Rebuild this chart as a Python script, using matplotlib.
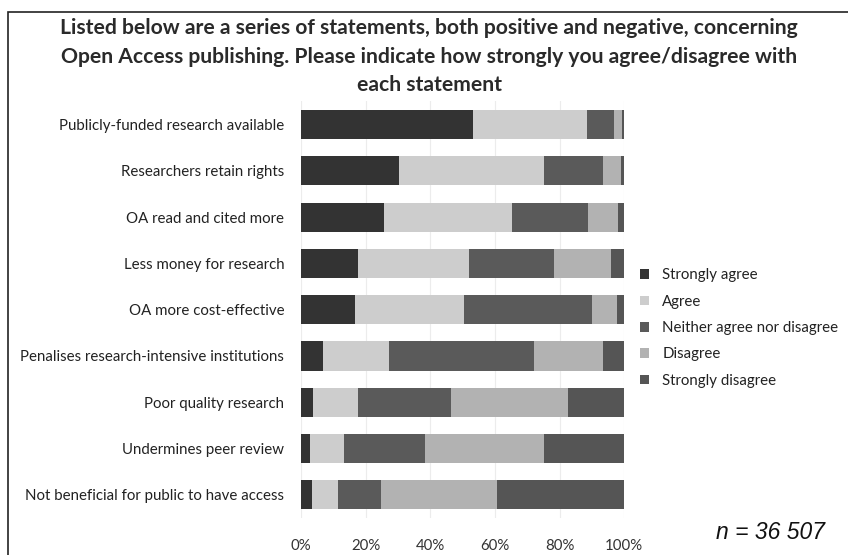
import numpy as np
import matplotlib.pyplot as plt
from matplotlib.patches import Rectangle

# statements, top to bottom
statements = [
    'Publicly-funded research available',
    'Researchers retain rights',
    'OA read and cited more',
    'Less money for research',
    'OA more cost-effective',
    'Penalises research-intensive institutions',
    'Poor quality research',
    'Undermines peer review',
    'Not beneficial for public to have access',
]
responses = ['Strongly agree', 'Agree', 'Neither agree nor disagree',
             'Disagree', 'Strongly disagree']

# percentages per response, one value per statement
strongly_agree = [53.3, 30.3, 25.8, 17.5, 16.8, 6.9, 3.8, 2.8, 3.4]
agree = [35.3, 44.9, 39.5, 34.6, 33.5, 20.3, 13.8, 10.6, 7.9]
neither = [8.2, 18.3, 23.4, 26.1, 39.8, 45.0, 28.9, 25.0, 13.3]
disagree = [2.4, 5.4, 9.5, 17.6, 7.7, 21.4, 36.2, 36.7, 35.9]
strongly_disagree = [0.8, 1.1, 1.8, 4.2, 2.2, 6.4, 17.3, 24.9, 39.5]

colors = ['#333333', '#cdcdcd', '#5a5a5a', '#b2b2b2', '#555555']
font = 'Lato'

fig = plt.figure(figsize=(8.48, 5.55), dpi=100)
ax = fig.add_axes([0.355, 0.0667, 0.381, 0.7505])

series = [strongly_agree, agree, neither, disagree, strongly_disagree]
y = np.arange(len(statements))
left = np.zeros(len(statements))
for vals, lab, c in zip(series, responses, colors):
    vals = np.array(vals)
    ax.barh(y, vals, left=left, height=0.63, color=c, label=lab, zorder=2)
    left += vals

ax.set_xlim(0, 100)
ax.set_ylim(len(statements) - 0.5, -0.5)
ax.set_xticks(np.arange(0, 101, 20))
ax.set_xticklabels([f'{v}%' for v in range(0, 101, 20)], fontfamily=font,
                   fontsize=10.8, color='#333333')
ax.set_yticks(y)
ax.set_yticklabels(statements, fontfamily=font, fontsize=10.8, color='#222222')
ax.tick_params(axis='x', length=0, pad=15)
ax.tick_params(axis='y', length=0, pad=12)
ax.grid(axis='x', color='#ececec', linewidth=0.8, zorder=0)
for s in ax.spines.values():
    s.set_visible(False)

leg = ax.legend(loc='center left', bbox_to_anchor=(1.025, 0.456), frameon=False,
                prop={'family': font, 'size': 10.8}, handlelength=0.6,
                handleheight=0.6, handletextpad=0.9, labelspacing=0.82,
                borderpad=0)
for t in leg.get_texts():
    t.set_color('#222222')

fig.text(0.506, 0.968,
         'Listed below are a series of statements, both positive and negative, concerning\n'
         'Open Access publishing. Please indicate how strongly you agree/disagree with\n'
         'each statement',
         ha='center', va='top', fontsize=15.2, fontweight='bold', fontfamily=font,
         color='#2a2a2a', linespacing=1.55)

fig.text(0.909, 0.040, 'n = 36 507', ha='center', va='center', fontsize=16.5,
         fontfamily='Liberation Sans', style='italic', color='#111111')

# outer frame, cut at right and bottom
fig.patches.append(Rectangle((8 / 848, -0.1), 1.0, 1 - 12 / 555 + 0.1,
                             transform=fig.transFigure, fill=False,
                             edgecolor='#222222', linewidth=1.2))

fig.savefig('out.png', dpi=100)
